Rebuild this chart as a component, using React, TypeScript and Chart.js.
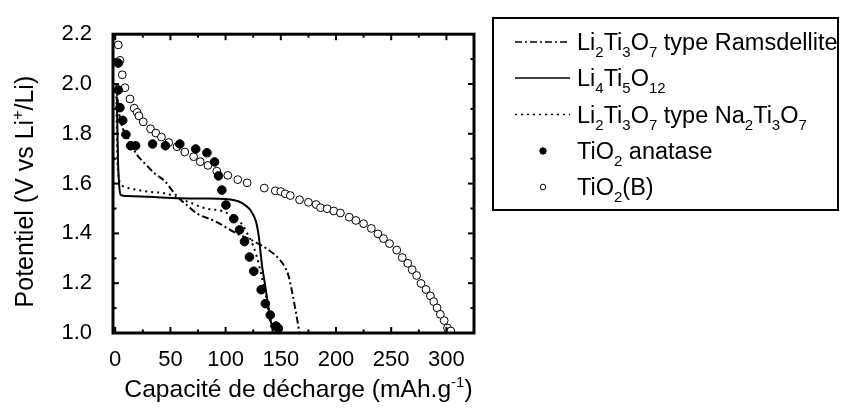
import React, { useEffect, useRef } from "react";
import { Chart, registerables } from "chart.js";

Chart.register(...registerables);

// ---------- data ----------
const xTickValues = [0, 50, 100, 150, 200, 250, 300];
const yTickValues = [1.0, 1.2, 1.4, 1.6, 1.8, 2.0, 2.2];
const xRange = [-2, 325];
const yRange = [1.0, 2.2];

const xTitle = "Capacité de décharge (mAh.g^{-1})";
const yTitle = "Potentiel (V vs Li^{+}/Li)";

const seriesLabels = [
  "Li_{2}Ti_{3}O_{7} type Ramsdellite",
  "Li_{4}Ti_{5}O_{12}",
  "Li_{2}Ti_{3}O_{7} type Na_{2}Ti_{3}O_{7}",
  "TiO_{2} anatase",
  "TiO_{2}(B)",
];

const ramsX = [1, 3, 7, 12, 19, 27, 36, 45, 52, 58, 66, 74, 90, 110, 125, 140, 148, 153, 157, 160, 163, 167];
const ramsY = [2.0, 1.9, 1.82, 1.78, 1.72, 1.68, 1.64, 1.61, 1.57, 1.54, 1.51, 1.48, 1.45, 1.4, 1.37, 1.33, 1.3, 1.27, 1.23, 1.17, 1.1, 1.0];

const ltoX = [1.5, 2.5, 3.5, 5, 10, 30, 58, 80, 100, 108, 115, 120, 123, 126, 128, 130, 131.5, 133, 135.5, 138, 140.5, 143];
const ltoY = [1.95, 1.7, 1.6, 1.555, 1.55, 1.547, 1.541, 1.54, 1.538, 1.533, 1.522, 1.505, 1.49, 1.465, 1.44, 1.39, 1.33, 1.27, 1.2, 1.126, 1.06, 1.0];

const naX = [1, 1.5, 2, 3, 5, 10, 16, 31, 46, 58, 70, 82, 97, 106, 112, 116, 119, 122, 125, 128, 131, 134, 137, 139.5, 142];
const naY = [1.95, 1.8, 1.7, 1.63, 1.6, 1.585, 1.578, 1.567, 1.56, 1.54, 1.52, 1.5, 1.49, 1.47, 1.45, 1.43, 1.405, 1.38, 1.35, 1.31, 1.26, 1.2, 1.14, 1.07, 1.0];

const anataseX = [2.8, 2.8, 4.3, 6.8, 9.7, 14, 18.5, 33.8, 45.5, 58.5, 72.9, 83.1, 90, 93.6, 96.6, 100.3, 107.4, 112.6, 117.1, 121.6, 125.5, 132.2, 136, 140.5, 145.7, 147.8];
const anataseY = [2.084, 1.976, 1.905, 1.854, 1.797, 1.752, 1.752, 1.759, 1.752, 1.759, 1.739, 1.724, 1.687, 1.631, 1.574, 1.514, 1.459, 1.414, 1.367, 1.305, 1.248, 1.174, 1.118, 1.072, 1.028, 1.018];

const tiobX = [2.8, 4.3, 6.4, 8.8, 13.4, 17.2, 19.9, 21.5, 25.4, 32, 36.8, 41.9, 48.5, 56, 63, 71, 77, 84, 92, 102, 111, 119.5, 135, 145, 150, 154, 158.6, 167, 175, 182, 186, 192, 198, 204, 212, 218, 225, 232, 238, 243, 248.5, 255, 260, 265, 269, 273, 277, 281.5, 285.5, 288.5, 291.5, 294.5, 298, 301, 304];
const tiobY = [2.157, 2.095, 2.037, 1.985, 1.94, 1.903, 1.886, 1.872, 1.848, 1.82, 1.803, 1.787, 1.765, 1.748, 1.727, 1.708, 1.688, 1.673, 1.65, 1.633, 1.616, 1.603, 1.582, 1.571, 1.568, 1.559, 1.552, 1.535, 1.525, 1.516, 1.503, 1.499, 1.49, 1.482, 1.465, 1.452, 1.439, 1.42, 1.398, 1.379, 1.359, 1.333, 1.303, 1.28, 1.254, 1.231, 1.199, 1.175, 1.149, 1.126, 1.101, 1.075, 1.05, 1.02, 1.008];

// ---------- helpers ----------
const FONT = "'Liberation Sans', Arial, sans-serif";
const zip = (xs: number[], ys: number[]) => xs.map((x, i) => ({ x, y: ys[i] }));

type Seg = { t: string; k: "n" | "sub" | "sup" };
function parseRich(s: string): Seg[] {
  const out: Seg[] = [];
  const re = /(\^\{[^}]*\}|_\{[^}]*\})/g;
  let last = 0;
  let m: RegExpExecArray | null;
  while ((m = re.exec(s))) {
    if (m.index > last) out.push({ t: s.slice(last, m.index), k: "n" });
    out.push({ t: m[0].slice(2, -1), k: m[0][0] === "^" ? "sup" : "sub" });
    last = m.index + m[0].length;
  }
  if (last < s.length) out.push({ t: s.slice(last), k: "n" });
  return out;
}
function richWidth(ctx: CanvasRenderingContext2D, segs: Seg[], size: number) {
  let w = 0;
  for (const s of segs) {
    ctx.font = `${s.k === "n" ? size : Math.round(size * 0.62)}px ${FONT}`;
    w += ctx.measureText(s.t).width;
  }
  return w;
}
function drawRich(ctx: CanvasRenderingContext2D, text: string, x: number, y: number, size: number, align: "left" | "center") {
  const segs = parseRich(text);
  ctx.textBaseline = "alphabetic";
  ctx.textAlign = "left";
  let cx = align === "center" ? x - richWidth(ctx, segs, size) / 2 : x;
  for (const s of segs) {
    const sz = s.k === "n" ? size : Math.round(size * 0.62);
    ctx.font = `${sz}px ${FONT}`;
    const dy = s.k === "sub" ? size * 0.3 : s.k === "sup" ? -size * 0.42 : 0;
    ctx.fillText(s.t, cx, y + dy);
    cx += ctx.measureText(s.t).width;
  }
}

const framePlugin = {
  id: "frameTicks",
  afterDatasetsDraw(chart: any) {
    const { ctx, chartArea: a, scales } = chart;
    const xs = scales.x;
    const ys = scales.y;
    ctx.save();
    ctx.strokeStyle = "#000";
    const seg = (x1: number, y1: number, x2: number, y2: number) => {
      ctx.beginPath();
      ctx.moveTo(x1, y1);
      ctx.lineTo(x2, y2);
      ctx.stroke();
    };
    ctx.lineWidth = 2;
    const xStep = xTickValues[1] - xTickValues[0];
    const yStep = yTickValues[1] - yTickValues[0];
    const xt: [number, number][] = [];
    xTickValues.forEach((v) => {
      xt.push([v, 6]);
      xt.push([v + xStep / 2, 3.5]);
    });
    xt.forEach(([v, len]) => {
      const px = xs.getPixelForValue(v);
      if (px <= a.left + 1 || px >= a.right - 1) return;
      seg(px, a.bottom, px, a.bottom - len);
      seg(px, a.top, px, a.top + len);
    });
    const yt: [number, number][] = [];
    yTickValues.forEach((v) => {
      yt.push([v, 6]);
      yt.push([v + yStep / 2, 3.5]);
    });
    yt.forEach(([v, len]) => {
      const py = ys.getPixelForValue(v);
      if (py <= a.top + 1 || py >= a.bottom - 1) return;
      seg(a.left, py, a.left + len, py);
      seg(a.right, py, a.right - len, py);
    });
    ctx.lineWidth = 3;
    ctx.strokeRect(a.left, a.top, a.right - a.left, a.bottom - a.top);

    // axis titles
    ctx.fillStyle = "#000";
    drawRich(ctx, xTitle, (a.left + a.right) / 2 + 5, 397, 24.6, "center");
    ctx.save();
    ctx.translate(33, (a.top + a.bottom) / 2 + 8);
    ctx.rotate(-Math.PI / 2);
    drawRich(ctx, yTitle, 0, 0, 25, "center");
    ctx.restore();

    // legend
    const bx = 493, by = 18, bw = 345, bh = 192;
    ctx.lineWidth = 2;
    ctx.strokeRect(bx, by, bw, bh);
    const rowY = [42, 78, 114.5, 151, 187];
    chart.data.datasets.forEach((ds: any, i: number) => {
      const y = rowY[i];
      ctx.save();
      if (ds.showLine !== false) {
        ctx.strokeStyle = ds.borderColor;
        ctx.lineWidth = 1.5;
        ctx.setLineDash(ds.borderDash || []);
        seg(515, y, 570, y);
      } else {
        ctx.beginPath();
        ctx.arc(543, y, ds.pointBackgroundColor === "#000" ? 3.2 : 2.8, 0, Math.PI * 2);
        ctx.fillStyle = ds.pointBackgroundColor;
        ctx.fill();
        ctx.lineWidth = 1;
        ctx.strokeStyle = "#000";
        ctx.stroke();
      }
      ctx.restore();
      ctx.fillStyle = "#000";
      drawRich(ctx, ds.label, 577, y + 8, 23.5, "left");
    });
    ctx.restore();
  },
};

export default function App() {
  const ref = useRef<HTMLCanvasElement>(null);
  useEffect(() => {
    if (!ref.current) return;
    const lineDs = (label: string, xs: number[], ys: number[], dash: number[]) => ({
      label,
      data: zip(xs, ys),
      showLine: true,
      borderColor: "#000",
      borderWidth: 2,
      borderDash: dash,
      pointRadius: 0,
      cubicInterpolationMode: "monotone",
      fill: false,
    });
    const pointDs = (label: string, xs: number[], ys: number[], bg: string, r: number) => ({
      label,
      data: zip(xs, ys),
      showLine: false,
      pointRadius: r,
      pointBackgroundColor: bg,
      pointBorderColor: "#000",
      pointBorderWidth: 1,
      backgroundColor: bg,
      borderColor: "#000",
    });
    const chart = new Chart(ref.current, {
      type: "scatter",
      data: {
        datasets: [
          lineDs(seriesLabels[0], ramsX, ramsY, [7, 3, 2, 3]),
          lineDs(seriesLabels[1], ltoX, ltoY, []),
          lineDs(seriesLabels[2], naX, naY, [2, 4]),
          pointDs(seriesLabels[3], anataseX, anataseY, "#000", 4.3),
          pointDs(seriesLabels[4], tiobX, tiobY, "#fff", 3.9),
        ] as any,
      },
      options: {
        animation: false,
        responsive: false,
        layout: { padding: { left: 0, top: 20, right: 369, bottom: 0 } },
        plugins: { legend: { display: false }, tooltip: { enabled: false } },
        scales: {
          x: {
            type: "linear",
            min: xRange[0],
            max: xRange[1],
            grid: { display: false, drawTicks: false },
            border: { display: false },
            afterBuildTicks: (s: any) => {
              s.ticks = xTickValues.map((v) => ({ value: v }));
            },
            afterFit: (s: any) => {
              s.height = 78;
            },
            ticks: {
              color: "#000",
              font: { family: FONT, size: 22 },
              padding: 14,
              maxRotation: 0,
              autoSkip: false,
              callback: (v: any) => String(v),
            },
          },
          y: {
            type: "linear",
            min: yRange[0],
            max: yRange[1],
            grid: { display: false, drawTicks: false },
            border: { display: false },
            afterBuildTicks: (s: any) => {
              s.ticks = yTickValues.map((v) => ({ value: v }));
            },
            afterFit: (s: any) => {
              s.width = 113;
            },
            ticks: {
              color: "#000",
              font: { family: FONT, size: 22 },
              padding: 21,
              autoSkip: false,
              callback: (v: any) => Number(v).toFixed(1),
            },
          },
        },
      } as any,
      plugins: [framePlugin],
    });
    return () => chart.destroy();
  }, []);
  return (
    <div style={{ position: "absolute", left: 0, top: 0, width: 843, height: 411, background: "#fff" }}>
      <canvas ref={ref} width={843} height={411} style={{ display: "block" }} />
    </div>
  );
}
